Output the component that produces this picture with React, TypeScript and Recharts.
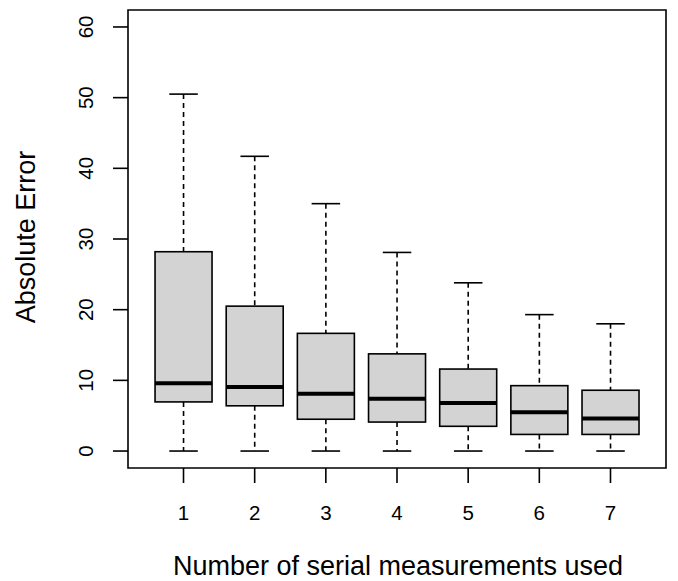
import { ComposedChart, Bar, XAxis, YAxis, ReferenceArea } from 'recharts';

const categories = [1, 2, 3, 4, 5, 6, 7];
const lowerWhisker = [0, 0, 0, 0, 0, 0, 0];
const firstQuartile = [6.95, 6.4, 4.5, 4.1, 3.5, 2.35, 2.35];
const medians = [9.6, 9.05, 8.1, 7.4, 6.8, 5.5, 4.6];
const thirdQuartile = [28.2, 20.5, 16.65, 13.75, 11.6, 9.25, 8.6];
const upperWhisker = [50.5, 41.7, 35.0, 28.1, 23.8, 19.3, 18.0];
const yTicks = [0, 10, 20, 30, 40, 50, 60];

const data = categories.map((c, i) => ({
  group: c,
  range: [lowerWhisker[i], upperWhisker[i]],
  lo: lowerWhisker[i],
  q1: firstQuartile[i],
  med: medians[i],
  q3: thirdQuartile[i],
  hi: upperWhisker[i],
}));

const FONT = '"Liberation Sans", Arial, sans-serif';

// one bar per group spans the whiskers; box and median are placed by linear interpolation inside it
function BoxShape(props: any) {
  const { x, y, width, height, payload } = props;
  const top = Math.min(y, y + height);
  const bottom = Math.max(y, y + height);
  const { lo, q1, med, q3, hi } = payload;
  const pix = (v: number) => bottom - ((v - lo) / (hi - lo)) * (bottom - top);
  const cx = x + width / 2;
  const cap = width / 4;
  const yq1 = pix(q1);
  const yq3 = pix(q3);
  const ym = pix(med);
  return (
    <g>
      <line x1={cx} x2={cx} y1={top} y2={yq3} stroke="#000" strokeWidth={1.6} strokeDasharray="5 4" />
      <line x1={cx} x2={cx} y1={yq1} y2={bottom} stroke="#000" strokeWidth={1.6} strokeDasharray="5 4" />
      <line x1={cx - cap} x2={cx + cap} y1={top} y2={top} stroke="#000" strokeWidth={1.6} />
      <line x1={cx - cap} x2={cx + cap} y1={bottom} y2={bottom} stroke="#000" strokeWidth={1.6} />
      <rect x={x} y={yq3} width={width} height={yq1 - yq3} fill="#d3d3d3" stroke="#000" strokeWidth={1.6} />
      <line x1={x} x2={x + width} y1={ym} y2={ym} stroke="#000" strokeWidth={4} />
    </g>
  );
}

function YTick(props: any) {
  const { x, y, payload } = props;
  const tx = x - 18;
  return (
    <text x={tx} y={y} transform={`rotate(-90 ${tx} ${y})`} textAnchor="middle" fontSize={20.5} fontFamily={FONT} fill="#000">
      {payload.value}
    </text>
  );
}

function XTick(props: any) {
  const { x, y, payload } = props;
  return (
    <text x={x} y={y + 35} textAnchor="middle" fontSize={20.5} fontFamily={FONT} fill="#000">
      {payload.value}
    </text>
  );
}

export default function App() {
  return (
    <div style={{ position: 'absolute', left: 0, top: 0, background: '#fff' }}>
      <ComposedChart
        width={678}
        height={581}
        data={data}
        margin={{ top: 10, right: 12, bottom: 53, left: 28 }}
        barCategoryGap="10%"
      >
        <XAxis
          dataKey="group"
          type="number"
          domain={[0.22, 7.78]}
          ticks={categories}
          allowDataOverflow
          height={60}
          axisLine={false}
          tickLine={{ stroke: '#000', strokeWidth: 1.6 }}
          tickSize={15}
          tick={<XTick />}
        />
        <YAxis
          type="number"
          domain={[-2.4, 62.4]}
          ticks={yTicks}
          allowDataOverflow
          width={100}
          axisLine={false}
          tickLine={{ stroke: '#000', strokeWidth: 1.6 }}
          tickSize={15}
          tick={<YTick />}
        />
        <Bar dataKey="range" shape={<BoxShape />} isAnimationActive={false} />
        <ReferenceArea x1={0.22} x2={7.78} y1={-2.4} y2={62.4} fill="none" fillOpacity={0} stroke="#000" strokeWidth={1.6} />
      </ComposedChart>
      <svg width={678} height={581} style={{ position: 'absolute', left: 0, top: 0, pointerEvents: 'none' }}>
        <text x={35} y={237} transform="rotate(-90 35 237)" textAnchor="middle" fontSize={27} fontFamily={FONT} fill="#000">
          Absolute Error
        </text>
        <text x={398} y={575} textAnchor="middle" fontSize={27} fontFamily={FONT} fill="#000">
          Number of serial measurements used
        </text>
      </svg>
    </div>
  );
}
